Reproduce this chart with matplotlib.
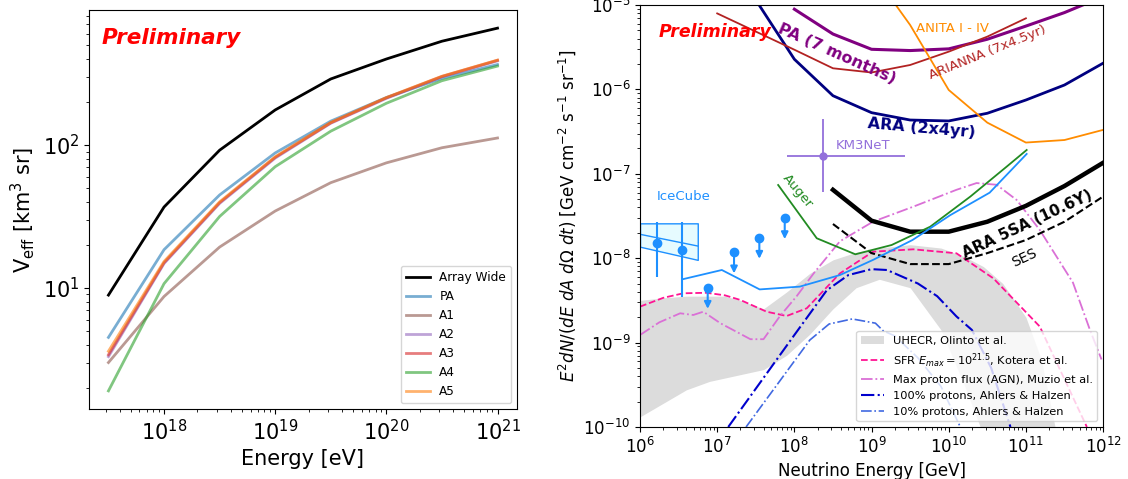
import matplotlib
matplotlib.use('Agg')
import matplotlib.pyplot as plt
import numpy as np

# ---------------- left panel: effective volume ----------------
energy_log = [17.5, 18.0, 18.5, 19.0, 19.5, 20.0, 20.5, 21.0]
veff_array = [8.9, 36.8, 92, 176, 290, 400, 533, 658]
veff_pa = [4.5, 18.5, 44.7, 88, 147, 215, 293, 366]
veff_a1 = [3.0, 8.7, 19.3, 34.5, 54.5, 75, 95.7, 112]
veff_a2 = [3.3, 14.8, 39, 81, 142, 212, 300, 388]
veff_a3 = [3.4, 15.0, 39.5, 82, 143, 214, 302, 392]
veff_a4 = [1.9, 10.7, 31.6, 70.5, 125, 196, 282, 357]
veff_a5 = [3.6, 15.3, 40, 82.8, 144, 215, 303, 393]
station_names = ['PA', 'A1', 'A2', 'A3', 'A4', 'A5']
station_colors = ['tab:blue', 'tab:brown', 'tab:purple', 'tab:red', 'tab:green', 'tab:orange']

# ---------------- right panel: diffuse flux limits (log10 values) ----------------
ara5sa_x = [8.5, 9.0, 9.5, 10.0, 10.5, 11.0, 11.5, 12.0]
ara5sa_y = [-7.19, -7.556, -7.686, -7.686, -7.568, -7.38, -7.145, -6.87]
ses_x = [8.5, 9.0, 9.5, 10.0, 10.5, 11.0, 11.5, 12.0]
ses_y = [-7.595, -7.94, -8.07, -8.07, -7.94, -7.785, -7.568, -7.27]
ara2x4_x = [7.5, 8.0, 8.5, 9.0, 9.5, 10.0, 10.5, 11.0, 11.5, 12.0]
ara2x4_y = [-4.94, -5.643, -6.075, -6.276, -6.363, -6.374, -6.283, -6.126, -5.948, -5.69]
pa_x = [8.0, 8.5, 9.0, 9.5, 10.0, 10.5, 11.0, 11.5, 12.0]
pa_y = [-5.05, -5.344, -5.525, -5.54, -5.52, -5.406, -5.25, -5.09, -4.9]
arianna_x = [7.0, 8.0, 8.5, 9.0, 9.5, 10.0, 10.5, 11.0]
arianna_y = [-5.1, -5.53, -5.75, -5.80, -5.711, -5.553, -5.375, -5.158]
anita_x = [9.0, 9.5, 10.0, 10.5, 11.0, 11.5, 12.0]
anita_y = [-4.6, -5.237, -6.007, -6.394, -6.63, -6.60, -6.48]
auger_x = [7.79, 8.29, 8.79, 9.26, 9.76, 10.28, 10.75, 11.01]
auger_y = [-7.133, -7.764, -7.954, -7.844, -7.627, -7.27, -6.916, -6.718]
icecube_x = [6.55, 7.06, 7.55, 8.07, 8.59, 9.02, 9.53, 10.02, 10.53, 11.01]
icecube_y = [-8.25, -8.14, -8.37, -8.337, -8.2, -8.02, -7.785, -7.49, -7.224, -6.765]

# IceCube measured points, upper limits and power-law band
ic_pts_x = [6.216, 6.548]
ic_pts_y = [-7.823, -7.90]
ic_err_lo = [-8.226, -8.456]
ic_err_hi = [-7.567, -7.567]
ic_ul_x = [6.877, 7.218, 7.546, 7.875]
ic_ul_y = [-8.35, -7.93, -7.757, -7.524]
ic_band_x = [6.0, 6.748]
ic_band_hi = [-7.587, -7.587]
ic_band_mid = [-7.717, -7.856]
ic_band_lo = [-7.864, -8.02]

# KM3NeT event
km3_x, km3_y = 8.374, -6.786
km3_xerr = [7.909, 9.435]
km3_yerr = [-7.212, -6.355]

# models
uhecr_x = [6.0, 6.3, 6.6, 6.9, 7.1, 7.3, 7.6, 7.9, 8.2, 8.5, 8.8, 9.1, 9.5, 9.9, 10.2, 10.45,
           10.7, 11.0, 11.2, 11.4]
uhecr_hi = [-8.5, -8.47, -8.45, -8.45, -8.45, -8.5, -8.6, -8.4, -8.18, -8.02, -7.93, -7.88, -7.84,
            -7.88, -7.98, -8.1, -8.3, -8.7, -9.2, -10.1]
uhecr_lo = [-9.88, -9.72, -9.56, -9.46, -9.42, -9.38, -9.32, -9.15, -8.9, -8.6, -8.35, -8.25, -8.35,
            -8.85, -9.5, -10.1, -10.5, -10.5, -10.5, -10.5]
sfr_x = [6.0, 6.3, 6.56, 6.86, 7.1, 7.3, 7.64, 7.9, 8.16, 8.59, 9.02, 9.54, 10.1, 10.58, 11.18, 11.79]
sfr_y = [-8.574, -8.47, -8.416, -8.41, -8.44, -8.495, -8.634, -8.685, -8.594, -8.18, -7.923,
         -7.895, -7.942, -8.24, -8.81, -10.0]
agn_x = [6.0, 6.25, 6.52, 6.69, 6.82, 7.04, 7.43, 7.6, 7.81, 8.03, 8.25, 8.59, 9.02, 9.54, 10.1,
         10.36, 10.62, 10.88, 11.18, 11.61, 11.83, 11.98]
agn_y = [-8.91, -8.76, -8.653, -8.673, -8.634, -8.77, -8.96, -8.96, -8.69, -8.45, -8.18, -7.80,
         -7.567, -7.39, -7.19, -7.11, -7.13, -7.31, -7.666, -8.29, -8.85, -9.2]
p100_x = [7.143, 8.0, 8.42, 8.7, 9.0, 9.2, 9.6, 9.85, 10.1, 10.3, 10.55, 10.8]
p100_y = [-10.0, -8.91, -8.38, -8.2, -8.13, -8.14, -8.3, -8.45, -8.69, -8.85, -9.3, -10.0]
p10_x = [7.374, 8.2, 8.45, 8.75, 9.05, 9.15, 9.3, 9.6, 9.9, 10.15]
p10_y = [-10.0, -8.97, -8.78, -8.72, -8.77, -8.86, -8.92, -9.18, -9.52, -10.0]


def p10(v):
    return 10 ** np.asarray(v, dtype=float)


fig = plt.figure(figsize=(11.28, 4.79), dpi=100)

# ================= left =================
ax1 = fig.add_axes([0.0789, 0.1461, 0.3794, 0.833])
e = p10(energy_log)
ax1.plot(e, veff_array, color='black', lw=2, label='Array Wide')
for name, col, vals in zip(station_names, station_colors,
                           [veff_pa, veff_a1, veff_a2, veff_a3, veff_a4, veff_a5]):
    ax1.plot(e, vals, color=col, lw=2, alpha=0.6, label=name)
ax1.set_xscale('log')
ax1.set_yscale('log')
ax1.set_xlabel('Energy [eV]', fontsize=15)
ax1.set_ylabel(r'V$_{\rm eff}$ [km$^3$ sr]', fontsize=15)
ax1.tick_params(labelsize=15)
ax1.legend(loc='lower right', fontsize=8.7)
ax1.text(0.03, 0.93, 'Preliminary', transform=ax1.transAxes, color='red',
         fontsize=15.5, fontweight='bold', style='italic', va='center')

# ================= right =================
ax2 = fig.add_axes([0.5674, 0.1086, 0.4105, 0.881])

ax2.fill_between(p10(uhecr_x), p10(uhecr_lo), p10(uhecr_hi), color='#dcdcdc', lw=0,
                 label='UHECR, Olinto et al.')
ax2.plot(p10(sfr_x), p10(sfr_y), color='deeppink', ls='--', lw=1.3,
         label=r'SFR $E_{max}=10^{21.5}$, Kotera et al.')
ax2.plot(p10(agn_x), p10(agn_y), color='orchid', ls='-.', lw=1.3,
         label='Max proton flux (AGN), Muzio et al.')
ax2.plot(p10(p100_x), p10(p100_y), color='mediumblue', ls='-.', lw=1.5,
         label='100% protons, Ahlers & Halzen')
ax2.plot(p10(p10_x), p10(p10_y), color='royalblue', ls='-.', lw=1.2,
         label='10% protons, Ahlers & Halzen')

ax2.plot(p10(ara5sa_x), p10(ara5sa_y), color='black', lw=3.2)
ax2.plot(p10(ses_x), p10(ses_y), color='black', ls='--', lw=1.5)
ax2.plot(p10(ara2x4_x), p10(ara2x4_y), color='navy', lw=2)
ax2.plot(p10(pa_x), p10(pa_y), color='purple', lw=2.2)
ax2.plot(p10(arianna_x), p10(arianna_y), color='firebrick', lw=1.3)
ax2.plot(p10(anita_x), p10(anita_y), color='darkorange', lw=1.3)
ax2.plot(p10(auger_x), p10(auger_y), color='forestgreen', lw=1.3)
ax2.plot(p10(icecube_x), p10(icecube_y), color='dodgerblue', lw=1.3)

# IceCube band, points and limits
ax2.fill_between(p10(ic_band_x), p10(ic_band_lo), p10(ic_band_hi), facecolor='#e6fbff',
                 edgecolor='dodgerblue', lw=1.0)
ax2.plot(p10(ic_band_x), p10(ic_band_mid), color='dodgerblue', lw=1.0)
icx = p10(ic_pts_x)
icy = p10(ic_pts_y)
ax2.errorbar(icx, icy, yerr=[icy - p10(ic_err_lo), p10(ic_err_hi) - icy], fmt='o',
             color='dodgerblue', ms=6, lw=1.5)
for lx, ly in zip(ic_ul_x, ic_ul_y):
    ax2.plot(10 ** lx, 10 ** ly, 'o', color='dodgerblue', ms=6)
    ax2.annotate('', xy=(10 ** lx, 10 ** (ly - 0.25)), xytext=(10 ** lx, 10 ** ly),
                 arrowprops=dict(arrowstyle='-|>', color='dodgerblue', lw=1.5,
                                 mutation_scale=10, shrinkA=0, shrinkB=0))

# KM3NeT
ax2.errorbar([10 ** km3_x], [10 ** km3_y],
             xerr=[[10 ** km3_x - 10 ** km3_xerr[0]], [10 ** km3_xerr[1] - 10 ** km3_x]],
             yerr=[[10 ** km3_y - 10 ** km3_yerr[0]], [10 ** km3_yerr[1] - 10 ** km3_y]],
             fmt='o', color='mediumpurple', ms=5, lw=1.3)

# annotations
ax2.text(0.04, 0.935, 'Preliminary', transform=ax2.transAxes, color='red',
         fontsize=12.5, fontweight='bold', style='italic', va='center')
ax2.text(10 ** 8.55, 10 ** -5.58, 'PA (7 months)', color='purple', fontsize=11.5,
         fontweight='bold', rotation=-24, ha='center', va='center')
ax2.text(10 ** 9.65, 10 ** -6.46, 'ARA (2x4yr)', color='navy', fontsize=11.5,
         fontweight='bold', rotation=-5, ha='center', va='center')
ax2.text(10 ** 11.02, 10 ** -7.6, 'ARA 5SA (10.6Y)', color='black', fontsize=11,
         fontweight='bold', rotation=25, ha='center', va='center')
ax2.text(10 ** 10.98, 10 ** -8.0, 'SES', color='black', fontsize=10,
         rotation=25, ha='center', va='center')
ax2.text(10 ** 10.05, 10 ** -5.28, 'ANITA I - IV', color='darkorange', fontsize=9.5,
         ha='center', va='center')
ax2.text(10 ** 10.5, 10 ** -5.56, 'ARIANNA (7x4.5yr)', color='firebrick', fontsize=9.5,
         rotation=22, ha='center', va='center')
ax2.text(10 ** 8.04, 10 ** -7.2, 'Auger', color='forestgreen', fontsize=9.5,
         rotation=-50, ha='center', va='center')
ax2.text(10 ** 6.56, 10 ** -7.27, 'IceCube', color='dodgerblue', fontsize=9.5,
         ha='center', va='center')
ax2.text(10 ** 8.53, 10 ** -6.67, 'KM3NeT', color='mediumpurple', fontsize=9.5,
         ha='left', va='center')

ax2.set_xscale('log')
ax2.set_yscale('log')
ax2.set_xlim(1e6, 1e12)
ax2.set_ylim(1e-10, 1e-5)
ax2.set_xlabel('Neutrino Energy [GeV]', fontsize=12)
ax2.set_ylabel(r'$E^2dN/(dE\ dA\ d\Omega\ dt)$ [GeV cm$^{-2}$ s$^{-1}$ sr$^{-1}$]', fontsize=12)
ax2.tick_params(labelsize=12)
ax2.legend(loc='lower right', fontsize=8.2)

fig.savefig('out.png', dpi=100)
